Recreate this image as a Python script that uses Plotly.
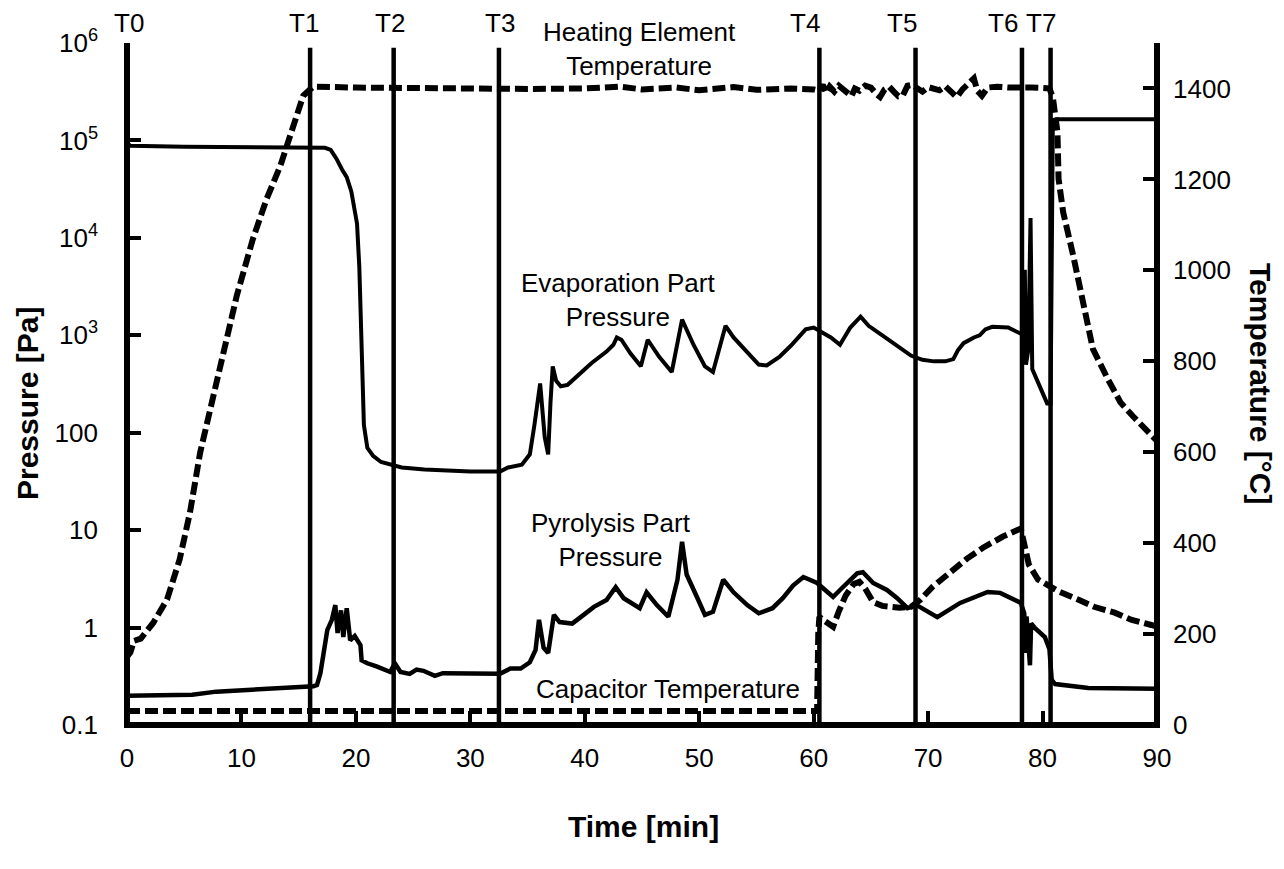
import plotly.graph_objects as go

# ---------------- data ----------------
evap_t = [0, 0.3, 5, 10, 15, 17.3, 17.8, 18.3, 18.8, 19.2, 19.6, 19.9, 20.1, 20.3, 20.5, 20.7,
          21.0, 21.5, 22.2, 23.0, 24.0, 26.0, 28.0, 30.0, 32.6, 33.3, 34.5, 35.2, 35.6, 36.1,
          36.5, 36.8, 37.0, 37.2, 37.5, 37.9, 38.5, 39.5, 40.6, 41.9, 42.5, 42.8, 43.2, 44.0,
          44.9, 45.5, 46.5, 47.6, 48.1, 48.5, 49.5, 50.5, 51.2, 51.8, 52.3, 53.0, 54.0, 55.2,
          55.9, 57.0, 58.0, 59.3, 60.0, 60.6, 61.5, 62.3, 63.2, 64.1, 64.8, 66.0, 67.3, 68.5,
          69.5, 70.5, 71.5, 72.2, 72.6, 73.1, 74.0, 74.5, 75.0, 75.6, 77.0, 78.1, 78.3, 78.45,
          78.55, 78.75, 78.95, 79.1, 79.6, 80.4, 80.7, 80.9, 81.2, 90]
evap_p = [9.5e4, 8.8e4, 8.6e4, 8.5e4, 8.4e4, 8.4e4, 8.0e4, 6.5e4, 5.0e4, 4.2e4, 3.0e4, 2.0e4, 1.4e4, 5e3, 800, 120,
          70, 58, 50, 47, 44, 42, 41, 40, 40, 44, 47, 60, 120, 320,
          90, 60, 200, 480, 340, 300, 310, 400, 520, 680, 800, 950, 900, 650,
          480, 900, 600, 420, 900, 1450, 800, 480, 420, 800, 1250, 950, 700, 500,
          490, 600, 780, 1150, 1200, 1100, 950, 800, 1200, 1550, 1250, 1000, 780, 620,
          560, 540, 540, 570, 700, 830, 950, 1000, 1150, 1220, 1200, 1050, 1010, 4700,
          500, 700, 1.6e4, 450, 330, 200, 200, 1.6e5, 1.65e5, 1.65e5]

pyro_t = [0, 5.7, 7.8, 11, 14, 16.3, 16.6, 16.9, 17.5, 17.9, 18.2, 18.4, 18.7, 18.9, 19.2, 19.5,
          19.9, 20.4, 20.5, 21.0, 21.8, 23.0, 23.4, 23.9, 24.7, 25.3, 25.9, 26.9, 27.6, 30,
          32.6, 33.5, 34.4, 35.2, 35.7, 36.0, 36.4, 36.8, 37.3, 37.8, 38.9, 39.9, 40.8, 41.9,
          42.7, 43.4, 44.8, 45.4, 46.3, 47.3, 48.1, 48.5, 48.9, 49.8, 50.5, 51.2, 52.1, 53.0,
          54.2, 55.2, 56.4, 57.3, 58.2, 59.1, 59.7, 60.3, 60.8, 61.7, 62.3, 62.9, 63.8, 64.3,
          65.2, 66.4, 67.3, 68.2, 69.0, 70.8, 72.8, 75.2, 76.3, 78.1, 78.4, 78.5, 78.6, 78.9,
          79.0, 79.3, 80.2, 80.6, 80.8, 81.1, 84, 90]
pyro_p = [0.2, 0.204, 0.22, 0.23, 0.24, 0.25, 0.257, 0.34, 0.94, 1.2, 1.7, 0.88, 1.5, 0.8, 1.58, 0.74,
          0.82, 0.66, 0.46, 0.43, 0.4, 0.35, 0.43, 0.35, 0.335, 0.37, 0.36, 0.32, 0.34, 0.335,
          0.335, 0.38, 0.38, 0.44, 0.59, 1.2, 0.62, 0.55, 1.35, 1.14, 1.1, 1.35, 1.63, 1.92,
          2.6, 2.0, 1.58, 2.3, 1.7, 1.29, 3.1, 7.6, 3.5, 2.06, 1.35, 1.45, 3.1, 2.3,
          1.7, 1.4, 1.58, 2.0, 2.7, 3.3, 3.1, 2.87, 2.55, 2.06, 2.43, 2.87, 3.6, 3.7,
          2.87, 2.43, 2.0, 1.58, 1.7, 1.28, 1.79, 2.32, 2.27, 1.79, 1.4, 0.55, 1.3, 0.41,
          1.1, 1.0, 0.8, 0.6, 0.29, 0.263, 0.24, 0.236]

heat_t = [0, 0.3, 0.6, 1.2, 2.3, 3.5, 4.6, 5.5, 6.4, 7.3, 8.1, 9.0, 9.6, 11.0, 12.2, 13.4,
          14.5, 15.4, 16.0, 16.3, 20, 25, 30, 35, 40, 43, 45, 48, 50, 53, 55, 58, 60,
          60.5, 60.8, 61.1, 61.4, 61.8, 62.2, 62.6, 63.0, 63.3, 63.6, 64.0, 64.5, 65.0, 65.5,
          65.8, 66.2, 66.6, 67.0, 67.4, 67.8, 68.2, 68.6, 69.0, 69.5, 70.0, 70.5, 71.0, 71.5,
          72.0, 72.5, 73.0, 73.5, 74.0, 74.3, 74.7, 75.2, 76.0, 77, 78, 79, 80, 80.6,
          80.9, 81.3, 81.4, 81.8, 82.7, 83.6, 84.4, 85.7, 86.8, 87.9, 89.4, 90]
heat_T = [150, 160, 185, 190, 225, 276, 364, 467, 600, 694, 789, 877, 945, 1069, 1157, 1230,
          1318, 1384, 1398, 1404, 1402, 1400, 1401, 1399, 1400, 1404, 1398, 1402, 1396, 1403, 1397, 1400, 1398,
          1395, 1408, 1390, 1404, 1393, 1406, 1398, 1387, 1383, 1400, 1395, 1406, 1402, 1387,
          1381, 1398, 1404, 1393, 1383, 1385, 1406, 1408, 1402, 1393, 1403, 1400, 1396, 1405,
          1395, 1381, 1398, 1408, 1422, 1395, 1384, 1402, 1404, 1402, 1403, 1402, 1401, 1400,
          1380, 1305, 1201, 1128, 1030, 920, 827, 761, 710, 679, 643, 625]

cap_t = [0, 10, 20, 30, 40, 50, 60.3, 60.4, 60.5, 61.0, 61.7, 62.2, 62.8, 63.5, 64.0, 64.5,
         65.2, 66.0, 67.5, 68.5, 69.3, 70.4, 71.9, 73.4, 74.8, 76.5, 78.1, 78.5, 78.8, 79.6,
         81.4, 83.2, 84.5, 86.3, 87.8, 89.5, 90]
cap_T = [31, 31, 31, 31, 31, 31, 31, 200, 238, 228, 216, 250, 285, 310, 315, 300,
         270, 262, 258, 260, 275, 304, 335, 366, 390, 414, 432, 392, 353, 320,
         294, 275, 260, 247, 231, 220, 216]

event_times = [0, 16.0, 23.3, 32.5, 60.5, 68.9, 78.2, 80.7]
event_labels = ["T0", "T1", "T2", "T3", "T4", "T5", "T6", "T7"]
event_label_x = [0.2, 15.5, 23.0, 32.6, 59.2, 67.7, 76.5, 79.85]

x_ticks = [0, 10, 20, 30, 40, 50, 60, 70, 80, 90]
p_tickvals = [0.1, 1, 10, 100, 1e3, 1e4, 1e5, 1e6]
p_ticktext = ["0.1", "1", "10", "100", "10<sup>3</sup>", "10<sup>4</sup>", "10<sup>5</sup>", "10<sup>6</sup>"]
t_tickvals = [0, 200, 400, 600, 800, 1000, 1200, 1400]

FONT = "Liberation Sans, Arial, Helvetica, sans-serif"
DASH = "13px,5px"

# page geometry of plot area (page pixels)
PL, PR, PT, PB = 127, 1157, 43, 725
PW, PH = PR - PL, PB - PT


def fx(px):
    return (px - PL) / PW


def fy(py):
    return (PB - py) / PH


fig = go.Figure()
fig.add_trace(go.Scatter(x=heat_t, y=heat_T, yaxis="y2", mode="lines",
                         line=dict(color="black", width=6, dash=DASH), showlegend=False))
fig.add_trace(go.Scatter(x=cap_t, y=cap_T, yaxis="y2", mode="lines",
                         line=dict(color="black", width=6, dash=DASH), showlegend=False))
fig.add_trace(go.Scatter(x=evap_t, y=evap_p, mode="lines",
                         line=dict(color="black", width=4), showlegend=False))
fig.add_trace(go.Scatter(x=pyro_t, y=pyro_p, mode="lines",
                         line=dict(color="black", width=4.5), showlegend=False))

shapes = []
for t in event_times:
    shapes.append(dict(type="line", xref="x", yref="paper", x0=t, x1=t, y0=0, y1=0.993,
                       line=dict(color="black", width=4.5), layer="above"))
shapes.append(dict(type="path", xref="paper", yref="paper",
                   path="M 0 1 L 0 0 L 1 0 L 1 1",
                   line=dict(color="black", width=6), layer="above"))

txt = dict(size=26, family=FONT, color="black")
bold = dict(size=30, family=FONT, color="black")
annotations = []
for lx, lab in zip(event_label_x, event_labels):
    annotations.append(dict(x=lx, y=fy(23), xref="x", yref="paper", text=lab,
                            showarrow=False, font=txt, xanchor="center", yanchor="middle"))

annotations += [
    dict(x=44.8, y=fy(49), xref="x", yref="paper", text="Heating Element<br>Temperature",
         showarrow=False, font=txt, align="center", xanchor="center", yanchor="middle"),
    dict(x=42.9, y=fy(300), xref="x", yref="paper", text="Evaporation Part<br>Pressure",
         showarrow=False, font=txt, align="center", xanchor="center", yanchor="middle"),
    dict(x=42.3, y=fy(540), xref="x", yref="paper", text="Pyrolysis Part<br>Pressure",
         showarrow=False, font=txt, align="center", xanchor="center", yanchor="middle"),
    dict(x=47.3, y=fy(689), xref="x", yref="paper", text="Capacitor Temperature",
         showarrow=False, font=txt, xanchor="center", yanchor="middle"),
    dict(x=fx(27), y=fy(404), xref="paper", yref="paper", text="<b>Pressure [Pa]</b>",
         textangle=-90, showarrow=False, font=bold, xanchor="center", yanchor="middle"),
    dict(x=fx(1261), y=fy(383), xref="paper", yref="paper", text="<b>Temperature [°C]</b>",
         textangle=90, showarrow=False, font=bold, xanchor="center", yanchor="middle"),
    dict(x=fx(643), y=fy(826), xref="paper", yref="paper", text="<b>Time [min]</b>",
         showarrow=False, font=bold, xanchor="center", yanchor="middle"),
]

# the page body has an 8px margin: place the figure so the plot area lands on PL..PR, PT..PB
W, H = 1268, 853
OFF = 8
fig.update_layout(
    width=W, height=H,
    margin=dict(l=PL - OFF, r=OFF + W - PR, t=PT - OFF, b=OFF + H - PB, autoexpand=False),
    paper_bgcolor="white", plot_bgcolor="white",
    font=dict(family=FONT, size=26, color="black"),
    xaxis=dict(range=[0, 90], tickvals=x_ticks, ticks="inside", ticklen=14, tickwidth=4,
               tickcolor="black", showgrid=False, zeroline=False, showline=False,
               ticklabelstandoff=15, tickfont=dict(size=26)),
    yaxis=dict(type="log", range=[-1, 6], tickvals=p_tickvals, ticktext=p_ticktext,
               ticks="inside", ticklen=14, tickwidth=4, tickcolor="black",
               showgrid=False, zeroline=False, showline=False,
               ticklabelstandoff=28, tickfont=dict(size=26)),
    yaxis2=dict(range=[0, 1500], tickvals=t_tickvals, overlaying="y", side="right",
                ticks="inside", ticklen=14, tickwidth=4, tickcolor="black",
                showgrid=False, zeroline=False, showline=False,
                ticklabelstandoff=15, tickfont=dict(size=26)),
    shapes=shapes, annotations=annotations,
)

fig.write_html("out.html")
